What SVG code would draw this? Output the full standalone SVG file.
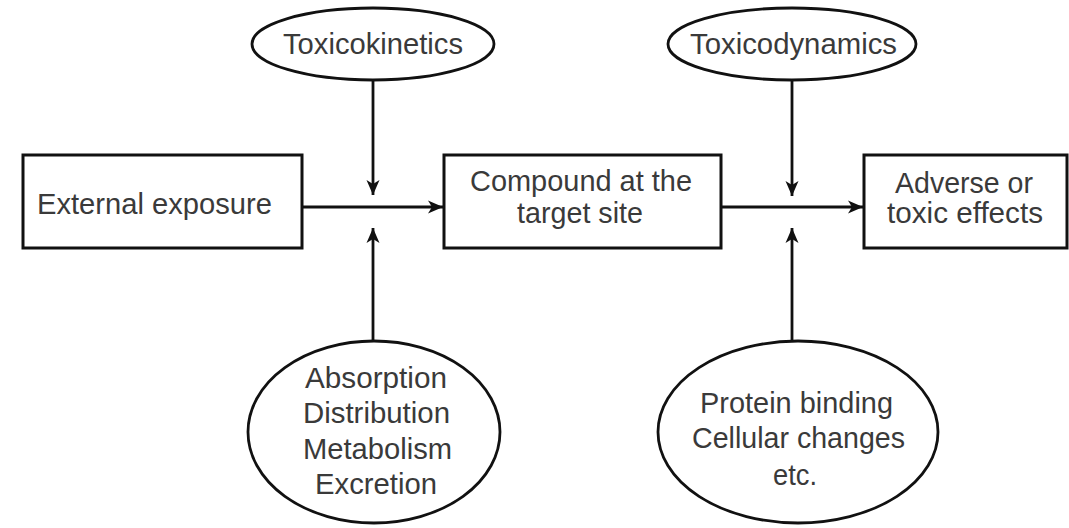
<svg xmlns="http://www.w3.org/2000/svg" width="1069" height="528" viewBox="0 0 1069 528">
<style>
.box{fill:#fff;stroke:#111;stroke-width:3}
.ell{fill:#fff;stroke:#111;stroke-width:2.8}
.t{font-family:"Liberation Sans",Arial,sans-serif;font-size:30px;fill:#3a3a3a}
.con{stroke:#111;stroke-width:2.8;fill:none;marker-end:url(#ah)}
</style>
<defs>
<marker id="ah" markerUnits="userSpaceOnUse" markerWidth="16" markerHeight="16" viewBox="0 0 16 16" refX="15" refY="8" orient="auto">
<path d="M0,1.5 L15,8 L0,14.5 L4,8 z" fill="#111"/>
</marker>
</defs>
<rect width="1069" height="528" fill="#fff"/>
<g id="connectors">
<line class="con" x1="302" y1="207" x2="443" y2="207"/>
<line class="con" x1="373" y1="80" x2="373" y2="195"/>
<line class="con" x1="373" y1="341" x2="373" y2="228"/>
<line class="con" x1="721" y1="207" x2="863" y2="207"/>
<line class="con" x1="792" y1="80" x2="792" y2="196"/>
<line class="con" x1="792" y1="341" x2="792" y2="228"/>
</g>
<g id="external">
<rect class="box" x="23" y="155" width="279" height="93"/>
<text class="t" x="37" y="214" textLength="235" lengthAdjust="spacingAndGlyphs">External exposure</text>
</g>
<g id="compound">
<rect class="box" x="444" y="155" width="277" height="93"/>
<text class="t" x="470" y="191" textLength="222" lengthAdjust="spacingAndGlyphs">Compound at the</text>
<text class="t" x="517" y="223" textLength="126" lengthAdjust="spacingAndGlyphs">target site</text>
</g>
<g id="adverse">
<rect class="box" x="864" y="155" width="203" height="93"/>
<text class="t" x="895" y="193" textLength="138" lengthAdjust="spacingAndGlyphs">Adverse or</text>
<text class="t" x="887" y="223" textLength="156" lengthAdjust="spacingAndGlyphs">toxic effects</text>
</g>
<g id="toxicokinetics">
<ellipse class="ell" cx="373" cy="44" rx="121" ry="36"/>
<text class="t" x="283" y="54" textLength="180" lengthAdjust="spacingAndGlyphs">Toxicokinetics</text>
</g>
<g id="toxicodynamics">
<ellipse class="ell" cx="792" cy="44" rx="124" ry="36"/>
<text class="t" x="690" y="54" textLength="207" lengthAdjust="spacingAndGlyphs">Toxicodynamics</text>
</g>
<g id="adme">
<ellipse class="ell" cx="374" cy="432" rx="126" ry="91"/>
<text class="t" x="305" y="388" textLength="142" lengthAdjust="spacingAndGlyphs">Absorption</text>
<text class="t" x="303" y="423" textLength="147" lengthAdjust="spacingAndGlyphs">Distribution</text>
<text class="t" x="303" y="459" textLength="149" lengthAdjust="spacingAndGlyphs">Metabolism</text>
<text class="t" x="315" y="494" textLength="122" lengthAdjust="spacingAndGlyphs">Excretion</text>
</g>
<g id="protein">
<ellipse class="ell" cx="798" cy="432" rx="140" ry="91"/>
<text class="t" x="700" y="413" textLength="193" lengthAdjust="spacingAndGlyphs">Protein binding</text>
<text class="t" x="692" y="448" textLength="213" lengthAdjust="spacingAndGlyphs">Cellular changes</text>
<text class="t" x="773" y="485" textLength="44" lengthAdjust="spacingAndGlyphs">etc.</text>
</g>
</svg>
